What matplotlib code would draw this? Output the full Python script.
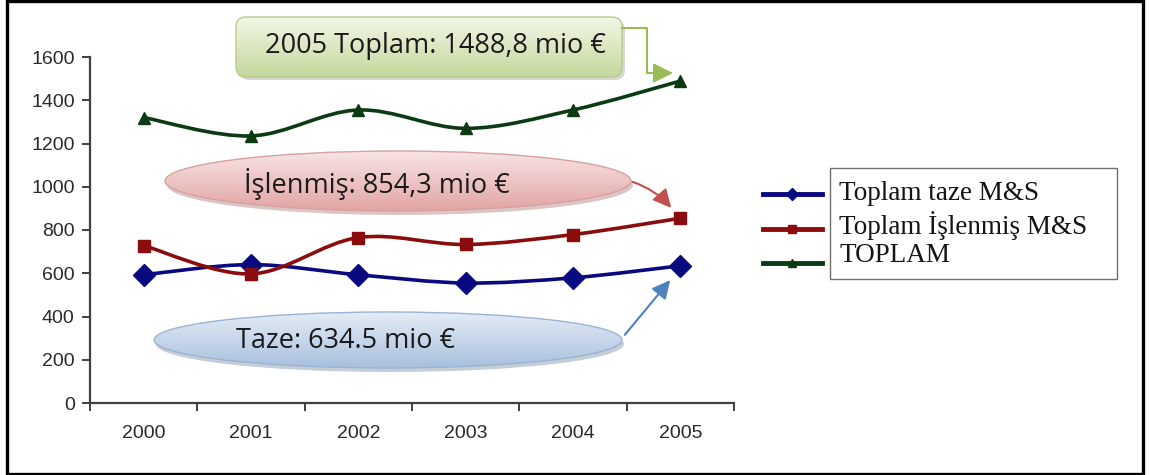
import numpy as np
import matplotlib
matplotlib.use("Agg")
import matplotlib.pyplot as plt
from matplotlib.path import Path
from matplotlib.patches import PathPatch, FancyBboxPatch, Ellipse, FancyArrowPatch, Rectangle
from matplotlib.lines import Line2D

# ---------------- data ----------------
years = ["2000", "2001", "2002", "2003", "2004", "2005"]
taze = [593, 640, 593, 555, 579, 634.5]
islenmis = [728, 597, 765, 733, 779, 854.3]
toplam = [1320, 1235, 1355, 1270, 1355, 1488.8]
series_names = ["Toplam taze M&S", "Toplam İşlenmiş M&S", "TOPLAM"]
y_ticks = [0, 200, 400, 600, 800, 1000, 1200, 1400, 1600]
callout_total = "2005 Toplam: 1488,8 mio €"
callout_isl = "İşlenmiş: 854,3 mio €"
callout_taze = "Taze: 634.5 mio €"

colors = ["#0a0a80", "#8a0c0c", "#0c3a12"]
markers = ["D", "s", "^"]
msizes = [11, 8, 9]

W, H = 1150, 475
fig = plt.figure(figsize=(W / 100, H / 100), dpi=100)
fig.patch.set_facecolor("white")

ax = fig.add_axes([90 / W, 1 - 403 / H, (734 - 90) / W, (403 - 57) / H])
ax.set_xlim(-0.5, 5.5)
ax.set_ylim(0, 1600)
for s in ["top", "right"]:
    ax.spines[s].set_visible(False)
for s in ["left", "bottom"]:
    ax.spines[s].set_color("#404040")
    ax.spines[s].set_linewidth(1.6)
ax.set_facecolor("none")

ax.set_yticks(y_ticks)
ax.set_yticklabels([str(v) for v in y_ticks], fontsize=14, color="#2a2a2a",
                   family=["Liberation Sans", "DejaVu Sans"])
ax.tick_params(axis="y", length=6, width=1.4, color="#404040", pad=5)

x = np.arange(len(years))
ax.set_xticks(np.arange(-0.5, 6.0, 1.0))
ax.set_xticklabels([])
ax.tick_params(axis="x", which="major", length=6, width=1.4, color="#404040", direction="out")
ax.set_xticks(x, minor=True)
ax.set_xticklabels(years, minor=True, fontsize=14, color="#2a2a2a",
                   family=["Liberation Sans", "DejaVu Sans"])
ax.tick_params(axis="x", which="minor", length=0, pad=16)


def smooth_path(xs, ys):
    pts = np.column_stack([xs, ys]).astype(float)
    n = len(pts)
    verts = [pts[0]]
    codes = [Path.MOVETO]
    for i in range(n - 1):
        p0 = pts[max(i - 1, 0)]
        p1 = pts[i]
        p2 = pts[i + 1]
        p3 = pts[min(i + 2, n - 1)]
        c1 = p1 + (p2 - p0) / 6.0
        c2 = p2 - (p3 - p1) / 6.0
        verts += [c1, c2, p2]
        codes += [Path.CURVE4] * 3
    return Path(verts, codes)


for vals, c, m, ms in zip([taze, islenmis, toplam], colors, markers, msizes):
    ax.add_patch(PathPatch(smooth_path(x, vals), fill=False, edgecolor=c, lw=2.6,
                           transform=ax.transData, zorder=3))
    ax.plot(x, vals, linestyle="none", marker=m, markersize=ms, color=c, zorder=4)

# ---------------- overlay (pixel coords, y down) ----------------
ov = fig.add_axes([0, 0, 1, 1], zorder=5)
ov.set_xlim(0, W)
ov.set_ylim(H, 0)
ov.axis("off")
ov.patch.set_alpha(0)


def gradient_fill(patch, top, bottom, bbox):
    x0, y0, x1, y1 = bbox
    t = np.linspace(0, 1, 256)[:, None]
    c_top = np.array(matplotlib.colors.to_rgb(top))
    c_bot = np.array(matplotlib.colors.to_rgb(bottom))
    img = (c_top[None, None, :] * (1 - t[..., None]) + c_bot[None, None, :] * t[..., None])
    img = np.repeat(img, 2, axis=1)
    im = ov.imshow(img, extent=(x0, x1, y1, y0), origin="upper", aspect="auto",
                   interpolation="bilinear", zorder=2)
    im.set_clip_path(patch)


CALLFONT = ["Open Sans", "DejaVu Sans"]
CALLSIZE = 19.5
ARROW = "-|>,head_length=11,head_width=5.5"

# Green rounded box
gx0, gy0, gx1, gy1 = 236, 17, 622, 77
shadow = FancyBboxPatch((gx0 + 3, gy0 + 3), gx1 - gx0, gy1 - gy0,
                        boxstyle="round,pad=0,rounding_size=10",
                        fc="#b0b0a0", ec="none", alpha=0.5, zorder=1)
ov.add_patch(shadow)
gbox = FancyBboxPatch((gx0, gy0), gx1 - gx0, gy1 - gy0,
                      boxstyle="round,pad=0,rounding_size=10",
                      fc="none", ec="#b8cc8c", lw=1.0, zorder=3)
ov.add_patch(gbox)
gradient_fill(gbox, "#f2f7e6", "#c4d89c", (gx0, gy0, gx1, gy1))
ov.text(435, 46, callout_total, fontsize=CALLSIZE,
        family=CALLFONT, color="#1a1a1a", ha="center", va="center", zorder=4)
gpath = Path([(gx1, 28), (647, 28), (647, 73), (673, 73)],
             [Path.MOVETO, Path.LINETO, Path.LINETO, Path.LINETO])
ov.add_patch(FancyArrowPatch(path=gpath, arrowstyle="-|>,head_length=12,head_width=6",
                             color="#9bbb59", lw=1.5, zorder=4, mutation_scale=1))

# Red ellipse
rcx, rcy, rw, rh = 398, 181, 466, 60
ov.add_patch(Ellipse((rcx + 2, rcy + 4), rw, rh, fc="#b08080", ec="none", alpha=0.45, zorder=1))
rell = Ellipse((rcx, rcy), rw, rh, fc="none", ec="#d8a0a0", lw=1.0, zorder=3)
ov.add_patch(rell)
gradient_fill(rell, "#f8e4e4", "#e2a4a4", (rcx - rw / 2, rcy - rh / 2, rcx + rw / 2, rcy + rh / 2))
ov.text(377, 184, callout_isl, fontsize=CALLSIZE, family=CALLFONT,
        color="#1a1a1a", ha="center", va="center", zorder=4)
ov.add_patch(FancyArrowPatch((630, 181), (673, 210), connectionstyle="arc3,rad=-0.15",
                             arrowstyle=ARROW, color="#c0504d",
                             lw=1.5, zorder=4, mutation_scale=1))

# Blue ellipse
bcx, bcy, bw, bh = 388, 340, 468, 56
ov.add_patch(Ellipse((bcx + 2, bcy + 4), bw, bh, fc="#8090a8", ec="none", alpha=0.45, zorder=1))
bell = Ellipse((bcx, bcy), bw, bh, fc="none", ec="#9ab4d4", lw=1.0, zorder=3)
ov.add_patch(bell)
gradient_fill(bell, "#e4ecf6", "#a8c0de", (bcx - bw / 2, bcy - bh / 2, bcx + bw / 2, bcy + bh / 2))
ov.text(346, 341, callout_taze, fontsize=CALLSIZE, family=CALLFONT,
        color="#1a1a1a", ha="center", va="center", zorder=4)
ov.add_patch(FancyArrowPatch((623, 337), (672, 278),
                             arrowstyle=ARROW, color="#4f81bd",
                             lw=1.5, zorder=4, mutation_scale=1))

# Legend (Excel-like: handles outside the box)
ov.add_patch(Rectangle((830, 168), 287, 111, fc="white", ec="#707070", lw=1.0, zorder=3))
text_y = [193, 226, 256]
handle_y = [194, 229, 263]
for name, c, m, ty, hy in zip(series_names, colors, markers, text_y, handle_y):
    ov.add_line(Line2D([763, 822], [hy, hy], color=c, lw=3.5, zorder=4))
    ov.add_line(Line2D([792], [hy], color=c, marker=m, markersize=6, linestyle="none", zorder=5))
    ov.text(839, ty, name, fontsize=19.5, family=["Liberation Serif", "DejaVu Serif"],
            color="#141414", ha="left", va="center", zorder=4)

# Outer border
ov.add_patch(Rectangle((6.5, 1), 1136, 472.5, fc="none", ec="black", lw=2.4, zorder=6))

fig.savefig("out.png", dpi=100, facecolor="white")
